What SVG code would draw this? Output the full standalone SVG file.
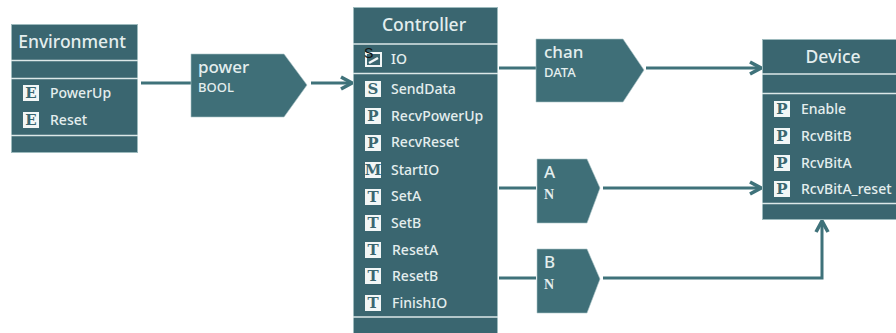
<svg xmlns="http://www.w3.org/2000/svg" width="896" height="333" viewBox="0 0 896 333">
<style>
.box{fill:#3a6670;stroke:#9dbabd;stroke-width:1}
.div{stroke:#dce8e8;stroke-width:1.6;fill:none}
.sig{fill:#3f6f78;stroke:#a9c3c6;stroke-width:.6}
.conn{fill:none;stroke:#3f727a;stroke-width:3}
.head{fill:none;stroke:#3f727a;stroke-width:3.6}
text{font-family:"Noto Sans","Liberation Sans",sans-serif;fill:#e4eeee}
.title{font-size:17.500px;text-anchor:middle;font-weight:500}
.item{font-size:14px;font-weight:500}
.sn{font-size:17px;font-weight:500}
.st{font-size:13px;font-weight:500}
.ic{fill:#f2f6f6}
.il{font-family:"DejaVu Serif","Liberation Serif",serif;font-size:15px;font-weight:700;text-anchor:middle;fill:#3a6670}
.ser{font-family:"Liberation Serif",serif;font-size:14px;font-weight:700}
</style>
<defs>
<rect id="icb" class="ic" width="16" height="16"/>
</defs>
<g id="connectors">
<path class="conn" d="M141 83H191"/>
<path class="conn" d="M311 83H351"/>
<path class="head" d="M341 77L352 83L341 89"/>
<path class="conn" d="M499 68H536"/>
<path class="conn" d="M646 68H760"/>
<path class="head" d="M750 62L761 68L750 74"/>
<path class="conn" d="M499 188H536"/>
<path class="conn" d="M603 188H760"/>
<path class="head" d="M750 182L761 188L750 194"/>
<path class="conn" d="M499 278H536"/>
<path class="conn" d="M603 278H822V222"/>
<path class="head" d="M816 232L822 221L828 232"/>
</g>
<g id="environment">
<rect class="box" x="11.500" y="24.500" width="126" height="128"/>
<path class="div" d="M11 60.500H138M11 78.500H138M11 135.500H138"/>
<text class="title" x="72" y="48">Environment</text>
<g><use href="#icb" x="23" y="85"/><text class="il" x="31" y="98">E</text><text class="item" x="50" y="98">PowerUp</text></g>
<g><use href="#icb" x="23" y="112"/><text class="il" x="31" y="125">E</text><text class="item" x="50" y="125">Reset</text></g>
</g>
<g id="power">
<polygon class="sig" points="191,54 284,54 307,85 284,117 191,117"/>
<text class="sn" x="198" y="73">power</text>
<text class="st" x="198" y="92">BOOL</text>
</g>
<g id="controller">
<rect class="box" x="353.500" y="7.500" width="144" height="327"/>
<path class="div" d="M353 44H498M353 73.500H498M353 317H498"/>
<text class="title" x="424" y="31">Controller</text>
<g><rect x="366" y="53" width="15" height="13" fill="#3a6670" stroke="#f2f6f6" stroke-width="2"/><path d="M369 63L378 58" stroke="#f2f6f6" stroke-width="2.500"/><text x="364" y="58" font-size="14" style="fill:#111;font-family:'Liberation Sans',sans-serif">S</text><text class="item" x="391" y="64">IO</text></g>
<g><use href="#icb" x="365" y="81"/><text class="il" x="373" y="94">S</text><text class="item" x="391" y="94">SendData</text></g>
<g><use href="#icb" x="365" y="108"/><text class="il" x="373" y="121">P</text><text class="item" x="391" y="121">RecvPowerUp</text></g>
<g><use href="#icb" x="365" y="135"/><text class="il" x="373" y="148">P</text><text class="item" x="391" y="147">RecvReset</text></g>
<g><use href="#icb" x="365" y="162"/><text class="il" x="373" y="175">M</text><text class="item" x="391" y="175">StartIO</text></g>
<g><use href="#icb" x="365" y="189"/><text class="il" x="373" y="202">T</text><text class="item" x="391" y="201">SetA</text></g>
<g><use href="#icb" x="365" y="215"/><text class="il" x="373" y="228">T</text><text class="item" x="391" y="228">SetB</text></g>
<g><use href="#icb" x="365" y="242"/><text class="il" x="373" y="255">T</text><text class="item" x="392" y="255">ResetA</text></g>
<g><use href="#icb" x="365" y="268"/><text class="il" x="373" y="281">T</text><text class="item" x="392" y="281">ResetB</text></g>
<g><use href="#icb" x="365" y="295"/><text class="il" x="373" y="308">T</text><text class="item" x="392" y="308">FinishIO</text></g>
</g>
<g id="chan">
<polygon class="sig" points="536,39 623,39 644,70 623,102 536,102"/>
<text class="sn" x="544" y="58">chan</text>
<text class="st" x="544" y="77">DATA</text>
</g>
<g id="a">
<polygon class="sig" points="537,159 587,159 600,188 587,223 537,223"/>
<text class="sn" x="544" y="178">A</text>
<text class="st ser" x="544" y="199">N</text>
</g>
<g id="b">
<polygon class="sig" points="537,249 587,249 600,279 587,313 537,313"/>
<text class="sn" x="544" y="268">B</text>
<text class="st ser" x="544" y="289">N</text>
</g>
<g id="device">
<rect class="box" x="762.500" y="39.500" width="140" height="180"/>
<path class="div" d="M762 74H896M762 93.500H896M762 203.500H896"/>
<text class="title" x="833" y="63">Device</text>
<g><use href="#icb" x="774" y="101"/><text class="il" x="782" y="114">P</text><text class="item" x="801" y="114">Enable</text></g>
<g><use href="#icb" x="774" y="128"/><text class="il" x="782" y="141">P</text><text class="item" x="801" y="141">RcvBitB</text></g>
<g><use href="#icb" x="774" y="155"/><text class="il" x="782" y="168">P</text><text class="item" x="801" y="168">RcvBitA</text></g>
<g><use href="#icb" x="774" y="181"/><text class="il" x="782" y="194">P</text><text class="item" x="801" y="194">RcvBitA_reset</text></g>
</g>
</svg>
